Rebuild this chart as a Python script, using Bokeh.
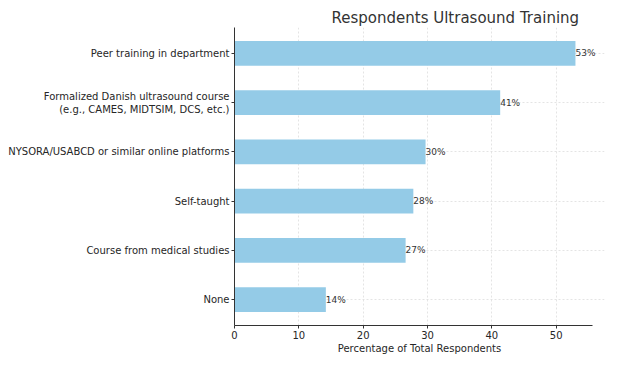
from bokeh.plotting import figure
from bokeh.models import FixedTicker, Range1d, ColumnDataSource, LabelSet
from bokeh.core.properties import value
from bokeh.embed import file_html
from bokeh.resources import INLINE

categories = [
    "Peer training in department",
    "Formalized Danish ultrasound course\n(e.g., CAMES, MIDTSIM, DCS, etc.)",
    "NYSORA/USABCD or similar online platforms",
    "Self-taught",
    "Course from medical studies",
    "None",
]
values = [53.0, 41.3, 29.7, 27.8, 26.6, 14.2]
x_ticks = [0, 10, 20, 30, 40, 50]

n = len(categories)
pos = [n - 1 - i for i in range(n)]
labels = [f"{round(v)}%" for v in values]
src = ColumnDataSource(dict(y=pos, v=values, lab=labels))

FONT = "DejaVu Sans"
TXT = "#262626"

x_axis_end = max(values) * 1.05          # axis drawn to here
x_frame_end = x_axis_end * 370 / 358     # frame a little wider so end labels are not clipped

p = figure(width=624, height=356, output_backend="svg", toolbar_location=None,
           x_range=Range1d(0, x_frame_end), y_range=Range1d(-0.525, n - 1 + 0.525),
           min_border_left=234, min_border_right=20, min_border_top=27, min_border_bottom=28)
p.title.text = "Respondents Ultrasound Training"
p.title.text_font = FONT
p.title.text_font_size = "15px"
p.title.text_font_style = "normal"
p.title.text_color = "#333333"
p.title.align = "left"
p.title.offset = 97
p.title.standoff = 2

p.hbar(y="y", right="v", left=0, height=0.5, source=src, color="#94CBE7", line_color=None)
p.add_layout(LabelSet(x="v", y="y", text="lab", source=src, text_baseline="middle",
                      text_font=value(FONT), text_font_size=value("9px"), text_color="#333333"))

p.outline_line_color = None
p.xaxis.ticker = FixedTicker(ticks=x_ticks)
p.xaxis.bounds = (0, x_axis_end)
p.yaxis.ticker = FixedTicker(ticks=pos)
p.yaxis.major_label_overrides = {pos[i]: categories[i] for i in range(n)}
for ax in (p.xaxis, p.yaxis):
    ax.axis_line_color = "#333333"
    ax.major_tick_line_color = "#333333"
    ax.major_tick_in = 0
    ax.major_tick_out = 3
    ax.minor_tick_line_color = None
    ax.major_label_text_font = FONT
    ax.major_label_text_font_size = "10px"
    ax.major_label_text_color = TXT
    ax.major_label_standoff = 2
p.xaxis.axis_label = "Percentage of Total Respondents"
p.xaxis.axis_label_text_font = FONT
p.xaxis.axis_label_text_font_size = "10px"
p.xaxis.axis_label_text_font_style = "normal"
p.xaxis.axis_label_text_color = TXT
p.xaxis.axis_label_standoff = 1

p.grid.grid_line_color = "#dddddd"
p.grid.grid_line_dash = "2 2"
p.grid.grid_line_width = 0.8

open("out.html", "w").write(file_html(p, INLINE))
